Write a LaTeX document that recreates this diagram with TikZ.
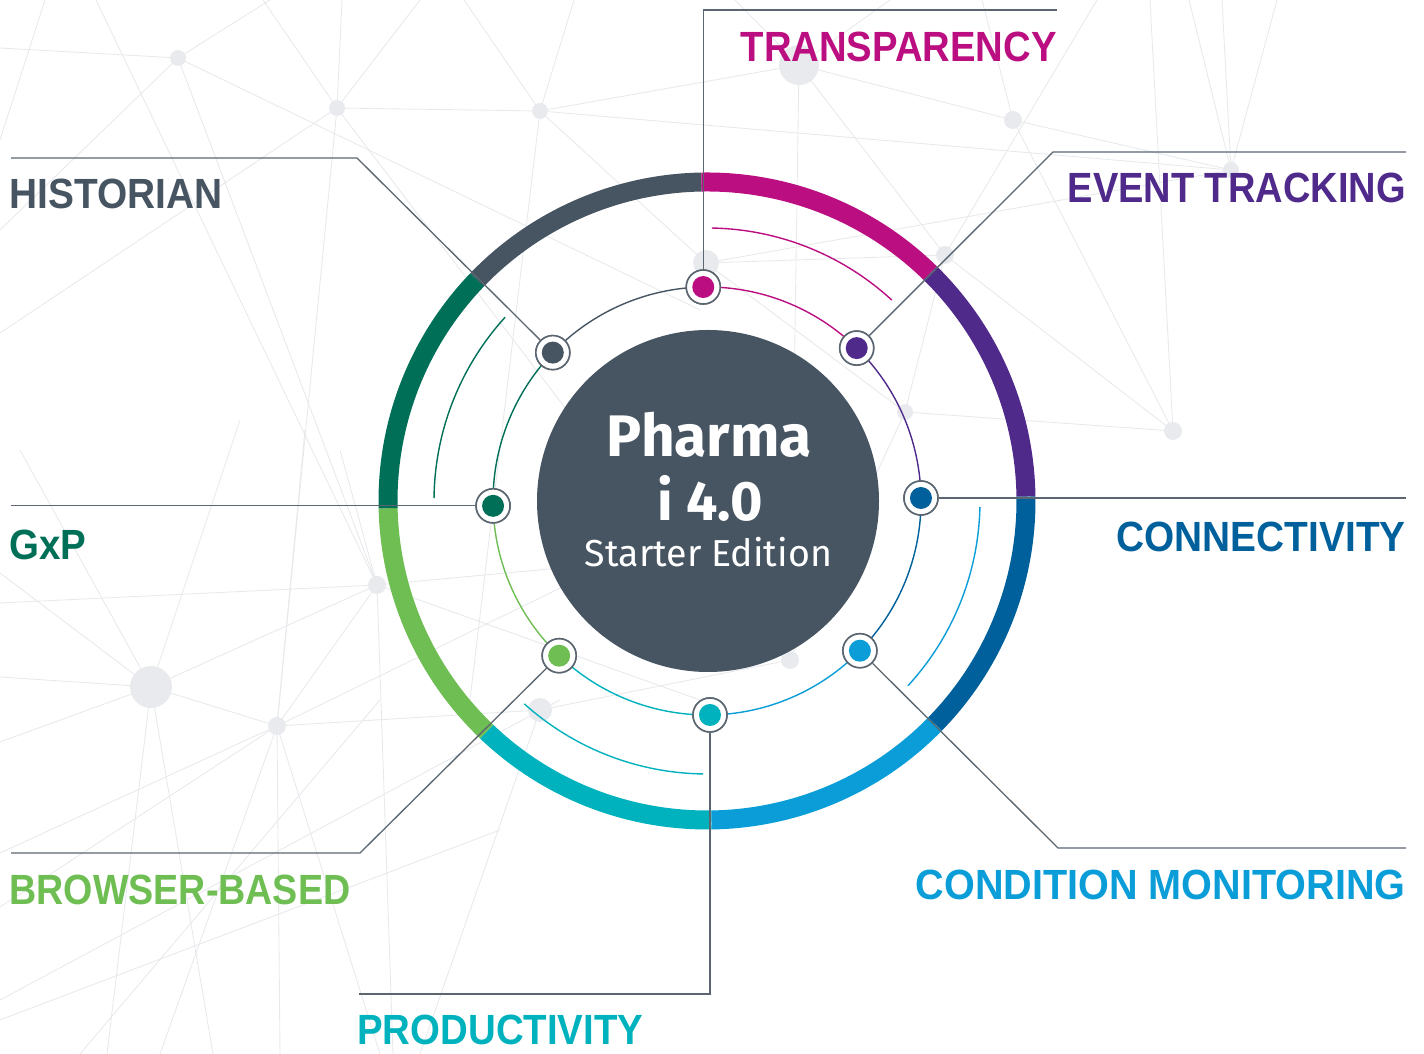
\documentclass[tikz,border=0pt]{standalone}
\usepackage{fontspec}
\setmainfont{Liberation Sans}
\newfontfamily\fira{Fira Sans}
\usetikzlibrary{calc}
\definecolor{slate}{HTML}{475563}
\definecolor{magentaC}{HTML}{BB0F81}
\definecolor{purpleC}{HTML}{4F2A8B}
\definecolor{dblueC}{HTML}{00609C}
\definecolor{lblueC}{HTML}{0A9DD8}
\definecolor{tealC}{HTML}{00B2BE}
\definecolor{greenC}{HTML}{6FBE53}
\definecolor{dgreenC}{HTML}{006F58}
\definecolor{leadC}{HTML}{5B6670}
\definecolor{bgline}{HTML}{E7E9EC}
\definecolor{bgdot}{HTML}{E8EAED}
\newlength\px \setlength\px{0.02cm}
\newcommand\fitlab[2]{\resizebox{#1\px}{29.5\px}{\bfseries #2}}
\begin{document}
\begin{tikzpicture}[x=0.02cm,y=0.02cm,
  ringseg/.style={line width=0.38cm},
  thinseg/.style={line width=0.8pt},
  lead/.style={draw=leadC,line width=0.75pt},
  bgl/.style={draw=bgline,line width=0.5pt},
  dotring/.style={circle,draw=leadC,line width=0.9pt,fill=white,minimum size=34\px,inner sep=0pt},
  lab/.style={inner sep=0pt}]
\useasboundingbox (0,0) rectangle (1424,1054);
% ---------------- background network (image coordinates, y downwards)
\begin{scope}[shift={(0,1054)},yscale=-1]
\coordinate (N1) at (178,58);   \coordinate (N2) at (337,108);
\coordinate (N3) at (540,111);  \coordinate (N4) at (799,65);
\coordinate (N5) at (1013,120); \coordinate (N6) at (1231,170);
\coordinate (N7) at (945,255);  \coordinate (N8) at (706,263);
\coordinate (N9) at (905,412);  \coordinate (N10) at (1173,431);
\coordinate (N11) at (377,585); \coordinate (N12) at (151,687);
\coordinate (N13) at (277,726); \coordinate (N14) at (790,660);
\coordinate (N15) at (540,710);
\foreach \p/\q in {N1/{0,48},N1/{270,0},N1/{700,310},N1/N11,N1/{0,230},{45,0}/{0,140},{96,0}/N11,
  N2/{342,0},N2/{263,0},N2/{420,0},N2/N3,N2/N13,N2/{620,480},N2/{0,333},
  N3/{574,0},N3/{464,0},N3/N4,N3/N6,N3/{470,700},N3/N8,
  N4/N5,N4/{735,0},N4/{890,0},N4/N14,N4/N7,N5/{982,0},N5/N6,N5/N10,
  N7/N10,N7/N9,N7/{1097,0},N8/N7,N8/N6,N9/N10,N9/N8,N9/N14,N10/{1150,0},
  N6/{1189,0},N6/{1222,0},N6/{1277,0},
  N12/{0,677},N12/{0,742},N12/{0,573},N12/{20,450},N12/{240,420},N12/N11,N12/N13,
  N12/{107,1054},N12/{213,1054},N13/{305,430},N13/N11,N13/N15,N13/{700,520},
  N13/{280,1054},N13/{160,1054},N13/{0,853},N13/{0,907},N13/{380,1054},
  N11/{0,603},N11/{393,1054},N11/{340,450},N11/{700,555},N11/{700,700},
  N15/{420,1054},N15/N14,{0,1020}/{500,830},{0,1000}/{560,700},{80,1054}/{380,700}}
  \draw[bgl] (\p) -- (\q);
\foreach \n/\r in {N1/8,N2/8,N3/8,N4/20,N5/9,N6/8,N7/9,N8/13,N9/8,N10/9,N11/9,N12/21,N13/9,N14/9,N15/12}
  \fill[bgdot] (\n) circle (\r);
\end{scope}
% ---------------- main graphic
\coordinate (O) at (707,553);
% outer ring
\foreach \a/\b/\c in {136.1/91/slate,91/45.6/magentaC,45.6/0.8/purpleC,0.8/-44.4/dblueC,
  -44.4/-89.2/lblueC,-89.2/-133.7/tealC,-133.7/-178.7/greenC,181.3/136.1/dgreenC}
  \draw[ringseg,\c] (O) ++(\a:319) arc[start angle=\a,end angle=\b,radius=319];
% thin ring through the dots
\foreach \a/\b/\c in {136.1/91/slate,91/45.6/magentaC,45.6/0.8/purpleC,0.8/-44.4/dblueC,
  -44.4/-89.2/lblueC,-89.2/-133.7/tealC,-133.7/-178.7/greenC,181.3/136.1/dgreenC}
  \draw[thinseg,\c] (O) ++(\a:214) arc[start angle=\a,end angle=\b,radius=214];
% inner arcs
\foreach \a/\b/\c in {89/47.4/magentaC,-1.3/-42.6/lblueC,-132/-90.8/tealC,179.4/137.7/dgreenC}
  \draw[thinseg,\c] (O) ++(\a:273) arc[start angle=\a,end angle=\b,radius=273];
% centre disc
\fill[slate] (708,553) circle (171);
% dots
\path (O) ++(91:214) node[dotring] (T) {};
\path (O) ++(45.6:214) node[dotring] (E) {};
\path (O) ++(0.8:214) node[dotring] (C) {};
\path (O) ++(-44.4:214) node[dotring] (CM) {};
\path (O) ++(-89.2:214) node[dotring] (P) {};
\path (O) ++(-133.7:214) node[dotring] (B) {};
\path (O) ++(181.3:214) node[dotring] (G) {};
\path (O) ++(136.1:214) node[dotring] (H) {};
% leader coordinates
\coordinate (tEnd) at (1057,1044);
\coordinate (eBend) at (1053,902); \coordinate (eEnd) at (1406,902);
\coordinate (cEnd) at (1406,0);
\coordinate (cmBend) at (1058,206); \coordinate (cmEnd) at (1406,206);
\coordinate (pEnd) at (359,60);
\coordinate (bBend) at (360,201); \coordinate (bEnd) at (11,201);
\coordinate (gEnd) at (11,0);
\coordinate (hBend) at (357,896); \coordinate (hEnd) at (11,896);
\draw[lead] (T) |- (tEnd);
\draw[lead] (E) -- (eBend) -- (eEnd);
\draw[lead] (C) -- (C -| cEnd);
\draw[lead] (CM) -- (cmBend) -- (cmEnd);
\draw[lead] (P) |- (pEnd);
\draw[lead] (B) -- (bBend) -- (bEnd);
\draw[lead] (G) -- (G -| gEnd);
\draw[lead] (H) -- (hBend) -- (hEnd);
% redraw dot rings on top and fill the coloured cores
\foreach \n/\c in {T/magentaC,E/purpleC,C/dblueC,CM/lblueC,P/tealC,B/greenC,G/dgreenC,H/slate}{
  \node[dotring] at (\n.center) {};
  \fill[\c] (\n.center) circle (11);
}
% labels
\node[lab,text=magentaC,anchor=base east] (lT) at (1057,992) {\fitlab{316}{TRANSPARENCY}};
\node[lab,text=purpleC,anchor=base east] (lE) at (1406,851) {\fitlab{338}{EVENT TRACKING}};
\node[lab,text=dblueC,anchor=base east] (lC) at (1406,502) {\fitlab{289}{CONNECTIVITY}};
\node[lab,text=lblueC,anchor=base east] (lCM) at (1406,154) {\fitlab{490}{CONDITION MONITORING}};
\node[lab,text=slate,anchor=base west] (lH) at (9,845) {\fitlab{213}{HISTORIAN}};
\node[lab,text=dgreenC,anchor=base west] (lG) at (9,494) {\fitlab{77}{GxP}};
\node[lab,text=greenC,anchor=base west] (lB) at (9,149) {\fitlab{341}{BROWSER-BASED}};
\node[lab,text=tealC,anchor=base west] (lP) at (357,9) {\fitlab{286}{PRODUCTIVITY}};
% centre text
\node[lab,text=white,anchor=base] (ph) at (709.5,597) {\resizebox{205\px}{!}{\fira\bfseries Pharma}};
\node[lab,text=white,anchor=base] (i4) at (710,533) {\resizebox{106\px}{!}{\fira\bfseries i\hspace{0.25em}4.0}};
\node[lab,text=white,anchor=base] (se) at (708.5,487) {\resizebox{247\px}{!}{\fira Starter Edition}};
\end{tikzpicture}
\end{document}
